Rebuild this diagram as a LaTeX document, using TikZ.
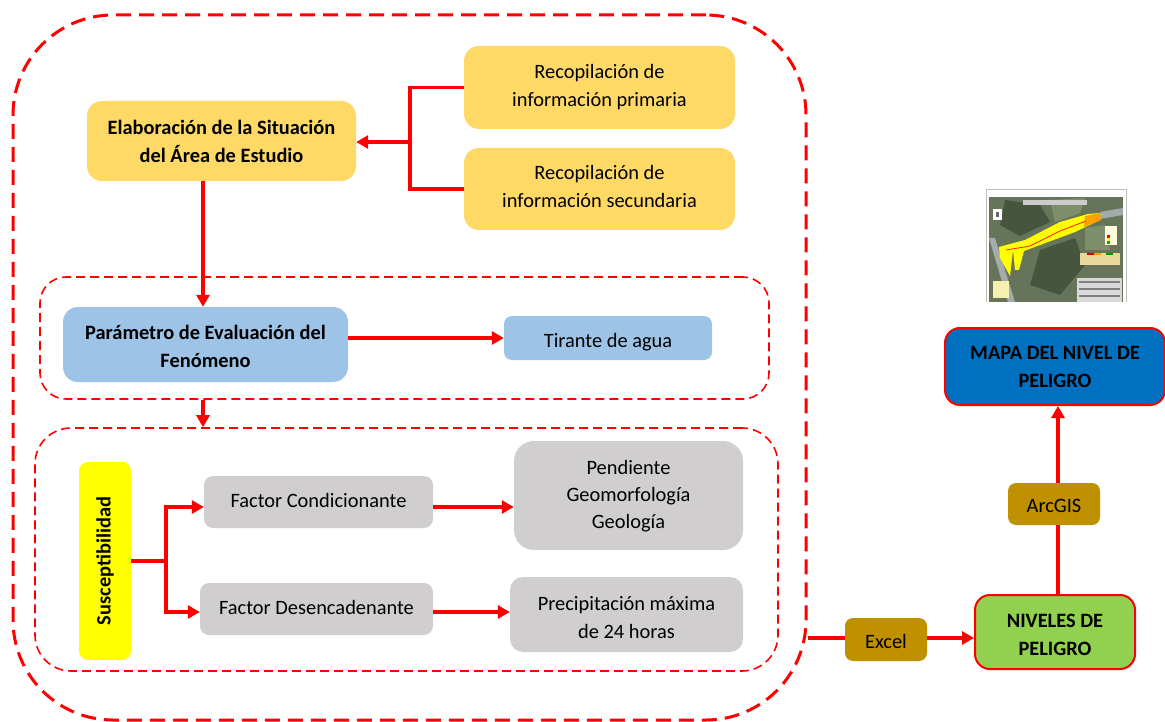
\documentclass[tikz,border=0pt]{standalone}
\usepackage{fontspec}
\setmainfont{Carlito}
\usepackage{xcolor}
\usetikzlibrary{arrows.meta}

\definecolor{rojo}{HTML}{FF0000}
\definecolor{ambar}{HTML}{FFD966}
\definecolor{celeste}{HTML}{9DC3E6}
\definecolor{plomo}{HTML}{D0CECE}
\definecolor{ocre}{HTML}{BF9000}
\definecolor{verde}{HTML}{92D050}
\definecolor{azul}{HTML}{0070C0}
\definecolor{amarillo}{HTML}{FFFF00}
\definecolor{monte}{HTML}{66755A}
\definecolor{bosque}{HTML}{47553F}
\definecolor{pasto}{HTML}{7F8F6C}
\definecolor{via}{HTML}{A3ABAB}
\definecolor{leyenda}{HTML}{F6EFB0}
\definecolor{tabla}{HTML}{E8D89A}
\definecolor{naranja}{HTML}{FFA000}

\tikzset{
    caja/.style={rounded corners=15pt,inner sep=0pt,align=center,font=\fontsize{20.4}{28}\selectfont},
    cajab/.style={caja,font=\fontsize{20.4}{28}\selectfont\bfseries},
    resaltada/.style={draw=rojo,line width=2pt},
    rotulo/.style={inner sep=0pt,align=center,font=\fontsize{20.4}{28}\selectfont},
    rotulob/.style={rotulo,font=\fontsize{20.4}{28}\selectfont\bfseries},
    marco/.style={draw=rojo,dashed,line width=1.6pt,dash pattern=on 9pt off 5pt},
    flecha/.style={draw=rojo,line width=3.5pt,-{Triangle[length=12pt,width=13pt]}},
    linea/.style={draw=rojo,line width=3.5pt}
}

\begin{document}
\begin{tikzpicture}[x=1pt,y=-1pt]
            \useasboundingbox (0,0) rectangle (1165,722);

            % marcos
            \node (marco) at (409.5,367.5) [marco,line width=3pt,dash pattern=on 15pt off 8pt,rounded corners=100pt,minimum width=793pt,minimum height=705pt,inner sep=0pt] {};
            \node (marcoa) at (404.5,338) [marco,rounded corners=26pt,minimum width=729pt,minimum height=122pt,inner sep=0pt] {};
            \node (marcob) at (406.5,549.5) [marco,rounded corners=36pt,minimum width=743pt,minimum height=243pt,inner sep=0pt] {};

            % cajas
            \node (elab) at (221.5,141) [cajab,fill=ambar,minimum width=269pt,minimum height=80pt] {Elaboración de la Situación\\del Área de Estudio};
            \node (prima) at (599.5,87.5) [caja,fill=ambar,minimum width=271pt,minimum height=83pt] {Recopilación de\\información primaria};
            \node (secun) at (599.5,189) [caja,fill=ambar,minimum width=271pt,minimum height=82pt,label={[rotulo,yshift=3pt]center:{Recopilación de\\información secundaria}}] {};
            \node (param) at (205.5,344.5) [caja,fill=celeste,minimum width=285pt,minimum height=75pt,label={[rotulob,yshift=-1.5pt]center:{Parámetro de Evaluación del\\Fenómeno}}] {};
            \node (tirante) at (608,338) [caja,rounded corners=8pt,fill=celeste,minimum width=208pt,minimum height=44pt,label={[rotulo,yshift=-4pt]center:{Tirante de agua}}] {};
            \node (suscep) at (105,561) [caja,rounded corners=9pt,fill=amarillo,minimum width=52pt,minimum height=198pt,label={[rotulob,rotate=90]center:{Susceptibilidad}}] {};
            \node (condi) at (318.5,502) [caja,rounded corners=9pt,fill=plomo,minimum width=229pt,minimum height=52pt,label={[rotulo,yshift=2pt]center:{Factor Condicionante}}] {};
            \node (desen) at (316.5,609) [caja,rounded corners=9pt,fill=plomo,minimum width=233pt,minimum height=52pt,label={[rotulo,yshift=2pt]center:{Factor Desencadenante}}] {};
            \node (pend) at (628.5,495.5) [caja,rounded corners=20pt,fill=plomo,minimum width=229pt,minimum height=109pt,label={[rotulo,font=\fontsize{20.4}{27}\selectfont,yshift=-1pt]center:{Pendiente\\Geomorfología\\Geología}}] {};
            \node (preci) at (626.5,614.5) [caja,rounded corners=13pt,fill=plomo,minimum width=233pt,minimum height=75pt,label={[rotulo,yshift=-3pt]center:{Precipitación máxima\\de 24 horas}}] {};
            \node (excel) at (886,639.5) [caja,rounded corners=8pt,fill=ocre,minimum width=82pt,minimum height=43pt,label={[rotulo,yshift=-1.5pt]center:{Excel}}] {};
            \node (arcgis) at (1054,504) [caja,rounded corners=8pt,fill=ocre,minimum width=92pt,minimum height=42pt,label={[rotulo,yshift=-2pt]center:{ArcGIS}}] {};
            \node (nivel) at (1055,632) [caja,resaltada,fill=verde,minimum width=160pt,minimum height=74pt,label={[rotulob,yshift=-3pt]center:{NIVELES DE\\PELIGRO}}] {};
            \node (mapa) at (1055,366.5) [caja,resaltada,fill=azul,minimum width=220pt,minimum height=77pt,label={[rotulob]center:{MAPA DEL NIVEL DE\\PELIGRO}}] {};

            % puntos de paso
            \coordinate (busa) at (410,142);
            \coordinate (busb) at (166,561);
            \coordinate (ejea) at (203,142);
            \coordinate (ejeb) at (1058,500);

            % conectores
            \draw[linea] (prima.west) -| (busa) (secun.west) -| (busa);
            \draw[flecha] (busa) -- (busa -| elab.east);
            \draw[flecha] (ejea |- elab.south) -- (ejea |- param.north);
            \draw[flecha] (ejea |- marcoa.south) -- (ejea |- marcob.north);
            \draw[flecha] (param.east |- tirante.west) -- (tirante.west);
            \draw[linea] (suscep.east) -- (busb);
            \draw[flecha] (busb) |- (condi.west |- 0,507);
            \draw[flecha] (busb) |- (desen.west |- 0,612);
            \draw[flecha] (condi.east |- 0,507) -- (pend.west |- 0,507);
            \draw[flecha] (desen.east |- 0,612) -- (preci.west |- 0,612);
            \draw[linea] (marco.east |- 0,638) -- (excel.west |- 0,638);
            \draw[flecha] (excel.east |- 0,638) -- (nivel.west |- 0,638);
            \draw[linea] (ejeb |- nivel.north) -- (ejeb |- arcgis.south);
            \draw[flecha] (ejeb |- arcgis.north) -- (ejeb |- mapa.south);

            % plano
            \draw[black!25,line width=.8pt] (986,302) -- (986,189) -- (1126,189) -- (1126,302);
            \fill[monte] (989,197) rectangle (1123,302);
            \fill[bosque] (1040,250) -- (1075,238) -- (1085,265) -- (1060,295) -- (1030,285) -- cycle;
            \fill[bosque] (1005,200) -- (1040,205) -- (1050,222) -- (1020,236) -- (1000,225) -- cycle;
            \fill[pasto] (1085,228) -- (1105,225) -- (1110,250) -- (1085,250) -- cycle;
            \fill[pasto] (1050,200) -- (1085,198) -- (1080,213) -- (1055,222) -- cycle;
            \fill[via] (989,238) -- (995,238) -- (1015,302) -- (1008,302) -- cycle;
            \fill[via] (1100,212) -- (1123,208) -- (1123,215) -- (1100,219) -- cycle;
            \fill[amarillo] (999,247) -- (1025,240) -- (1060,222) -- (1088,214) -- (1100,213) -- (1100,220) -- (1075,232) -- (1040,245) -- (1024,251) -- (1019,270) -- (1015,270) -- (1013,250) -- (1010,276) -- (1000,258) -- cycle;
            \fill[naranja] (1085,216) -- (1100,213) -- (1101,220) -- (1084,227) -- cycle;
            \draw[red!80!orange,line width=.8pt] (1006,250) -- (1030,246) -- (1060,231) -- (1086,221);
            \fill[white!80!black] (1023,200) rectangle (1087,205);
            \fill[white] (993,209) rectangle (1002,220);
            \fill[black!60] (996,212) rectangle (999,217);
            \fill[white!85!yellow] (1105,226) rectangle (1117,245);
            \fill[red] (1107,235) rectangle (1110,238);
            \fill[amarillo] (1107,238) rectangle (1110,241);
            \fill[green!70!black] (1107,241) rectangle (1110,244);
            \fill[tabla] (1080,253) rectangle (1120,265);
            \fill[red!80!black] (1087,253) rectangle (1094,255);
            \fill[naranja] (1094,253) rectangle (1101,255);
            \fill[green!60!black] (1106,253) rectangle (1113,255);
            \fill[leyenda] (993,281) rectangle (1009,298);
            \fill[white!85!black] (1077,278) rectangle (1122,302);
            \fill[black!50] (1079,281) rectangle (1120,283);
            \fill[black!50] (1079,288) rectangle (1120,290);
            \fill[black!50] (1079,295) rectangle (1120,297);
        \end{tikzpicture}
\end{document}
